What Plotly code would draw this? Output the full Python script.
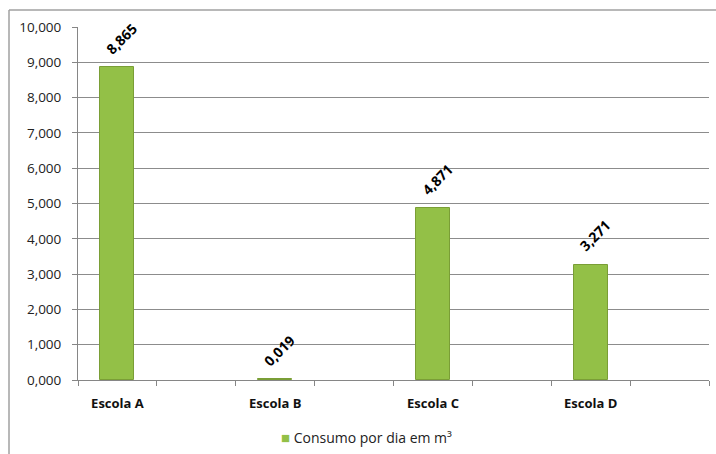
import plotly.graph_objects as go

categories = ["Escola A", "Escola B", "Escola C", "Escola D"]
values = [8.865, 0.019, 4.871, 3.271]
value_labels = ["8,865", "0,019", "4,871", "3,271"]
series_name = "Consumo por dia em m³"
y_ticks = [0, 1, 2, 3, 4, 5, 6, 7, 8, 9, 10]

# each school occupies every other slot of 8 category slots
x_pos = [2 * i + 0.5 for i in range(len(categories))]

FONT = "Open Sans"
GREEN = "#93c047"

fig = go.Figure()
fig.add_trace(go.Bar(
    x=x_pos, y=values, width=0.43, name=series_name,
    marker=dict(color=GREEN, line=dict(color="#7a9e36", width=1)),
    showlegend=False,
))

for xv, yv, lab in zip(x_pos, values, value_labels):
    fig.add_annotation(x=xv, y=yv, text="<b>" + lab + "</b>", textangle=-45,
                       showarrow=False, yshift=29, xshift=4,
                       font=dict(family=FONT, size=14, color="#000000"))

W, H = 716, 454
L, R, T, B = 78, 7, 27, 74
pw, ph = W - L - R, H - T - B
fx0 = (9 - L) / pw
fx1 = (W + 5 - L) / pw
fy0 = (T + ph - (H + 5)) / ph
fy1 = (T + ph - 10) / ph
fig.add_shape(type="line", xref="paper", yref="paper", x0=fx0, x1=fx0, y0=fy0, y1=fy1,
              line=dict(color="#a0a0a0", width=1.5))
fig.add_shape(type="line", xref="paper", yref="paper", x0=fx0, x1=fx1, y0=fy1, y1=fy1,
              line=dict(color="#a0a0a0", width=1.5))

# legend entry
fig.add_annotation(xref="paper", yref="paper", x=(279 - L) / pw, y=(T + ph - 437) / ph,
                   xanchor="left", yanchor="middle", showarrow=False,
                   text='<span style="color:%s;font-size:15px">■</span> %s' % (GREEN, series_name),
                   font=dict(family=FONT, size=14, color="#222222"))

fig.update_layout(
    width=W, height=H,
    margin=dict(l=L, r=R, t=T, b=B, autoexpand=False),
    paper_bgcolor="white", plot_bgcolor="white",
    separators=",.",
    showlegend=False,
    font=dict(family=FONT, size=13, color="#222222"),
    xaxis=dict(range=[0, 8], tickvals=x_pos, ticktext=["<b>" + c + "</b>" for c in categories],
               ticks="", showgrid=False, zeroline=False, automargin=False,
               showline=True, linecolor="#868686", linewidth=1,
               minor=dict(ticks="outside", dtick=1, tick0=0, ticklen=5, tickcolor="#868686", showgrid=False),
               tickfont=dict(family=FONT, size=13, color="#111111"),
               ticklabelstandoff=11, fixedrange=True),
    yaxis=dict(range=[0, 10], tickvals=y_ticks, tickformat=".3f", automargin=False,
               ticks="outside", ticklen=5, tickcolor="#868686",
               showgrid=True, gridcolor="#8c8c8c", gridwidth=1,
               zeroline=False, showline=True, linecolor="#868686", linewidth=1,
               tickfont=dict(family=FONT, size=13.5, color="#222222"),
               ticklabelstandoff=8, fixedrange=True),
    bargap=0,
)

fig.write_html("out.html")
